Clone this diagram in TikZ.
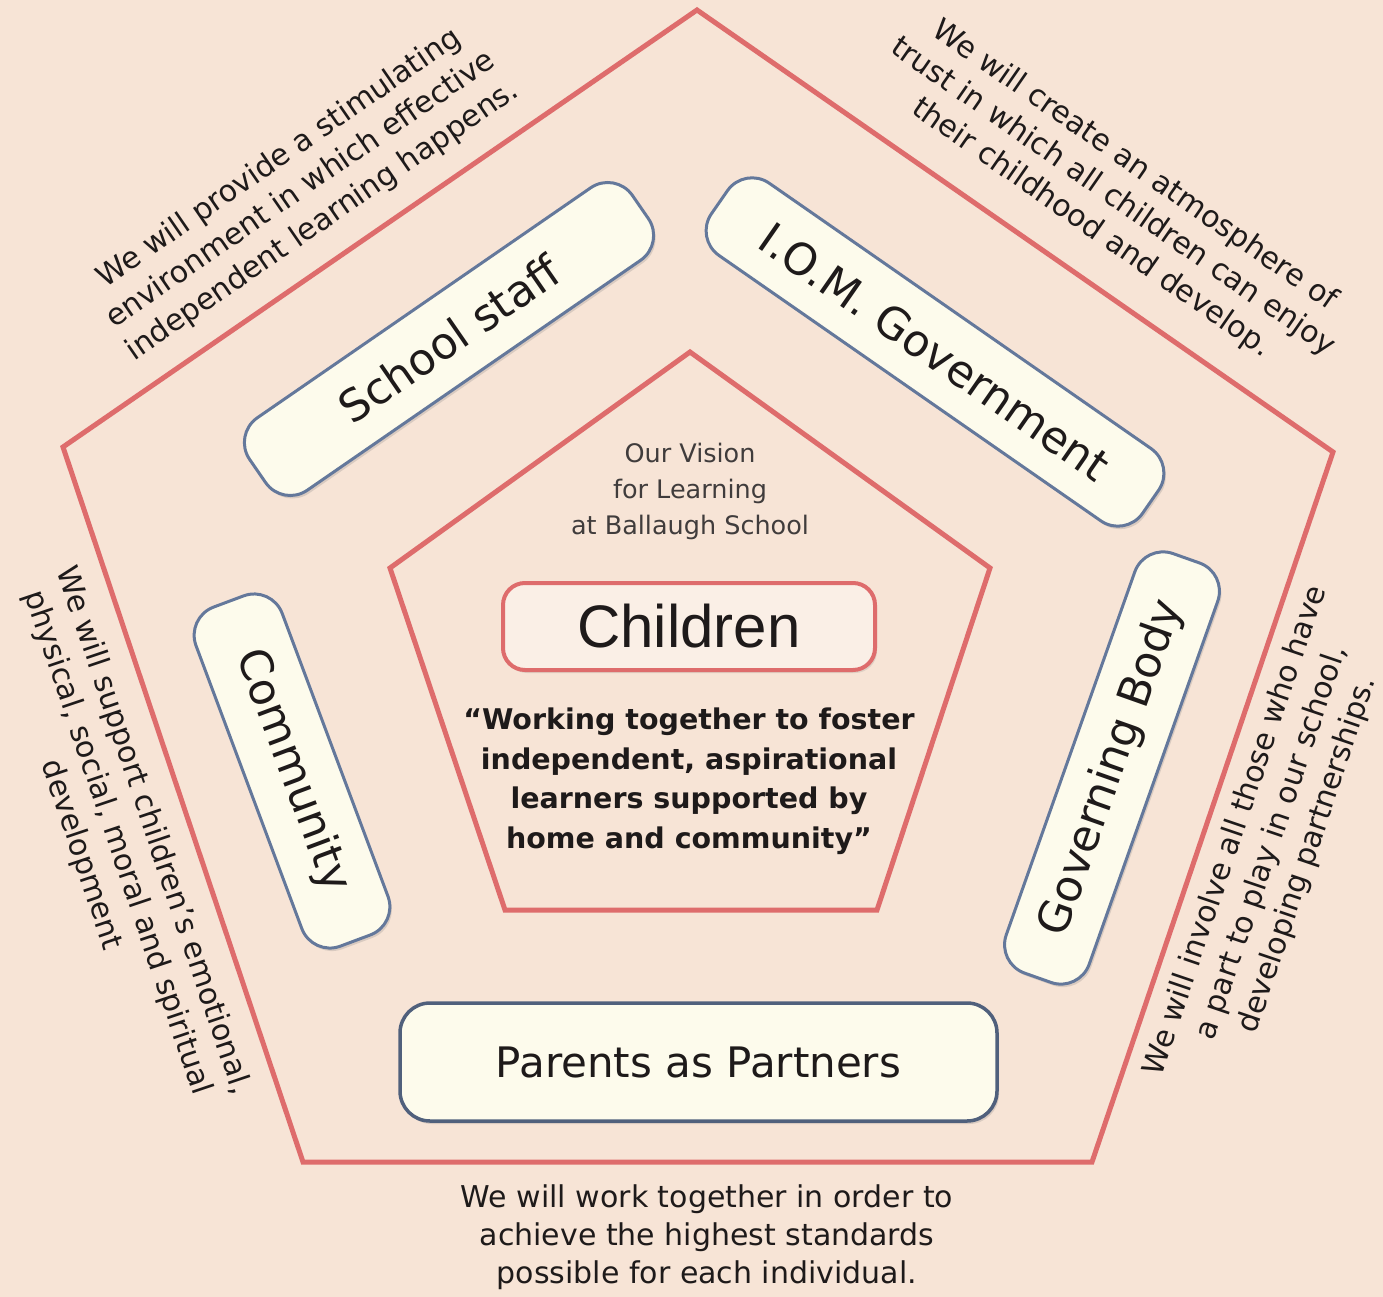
\documentclass[tikz,border=0pt]{standalone}
\usepackage{fontspec}
\setmainfont{DejaVu Sans}
\newfontfamily\helv{Liberation Sans}
\usetikzlibrary{shadows}
\definecolor{bgc}{RGB}{247,228,214}
\definecolor{pent}{RGB}{222,108,108}
\definecolor{boxfill}{RGB}{253,251,236}
\definecolor{boxline}{RGB}{100,120,155}
\definecolor{ink}{RGB}{30,26,26}
\begin{document}
\begin{tikzpicture}[x=1pt,y=-1pt,
  pentline/.style={draw=pent,line width=5pt,line join=miter},
  member/.style={draw=boxline,line width=3pt,fill=boxfill,rounded corners=30pt,inner sep=0pt,text=ink,
    font=\fontsize{44}{50}\selectfont,
    drop shadow={opacity=0.25,shadow xshift=2pt,shadow yshift=-3pt}},
  stmt/.style={align=center,text=ink,font=\fontsize{30}{38}\selectfont,inner sep=0pt},
]
\fill[bgc] (0,0) rectangle (1383,1297);
\useasboundingbox (0,0) rectangle (1383,1297);

% pentagons
\draw[pentline] (697,10) -- (1333,452) -- (1092,1162) -- (303,1162) -- (63,447) -- cycle;
\draw[pentline] (690,352) -- (990,568) -- (877,910) -- (505,910) -- (390,568) -- cycle;

% member boxes
\node[member,minimum width=465pt,minimum height=88pt,rotate=34.6] (staff) at (449,339) {School staff};
\node[member,minimum width=525pt,minimum height=88pt,rotate=-34.8] (gov) at (935,352) {I.O.M. Government};
\node[member,minimum width=445pt,minimum height=88pt,rotate=70.5] (body) at (1112,768) {Governing Body};
\node[member,minimum width=362pt,minimum height=92pt,rotate=-69.5] (comm) at (292,771) {Community};
\node[member,minimum width=597pt,minimum height=118pt,draw=boxline!80!black,line width=3.5pt,
  font=\fontsize{42}{48}\selectfont] (parents) at (698.5,1062) {Parents as Partners};

% centre
\node[align=center,text=ink!85,font=\fontsize{25.5}{36}\selectfont,inner sep=0pt] (vision) at (690,491)
  {Our Vision\\for Learning\\at Ballaugh School};
\node[draw=pent,line width=4pt,fill=bgc!60!white,rounded corners=22pt,minimum width=372pt,minimum height=87pt,
  text=ink,font=\helv\fontsize{60}{66}\selectfont,
  drop shadow={opacity=0.2,shadow xshift=2pt,shadow yshift=-3pt}] (children) at (689,626.5) {Children};
\node[align=center,text=ink,font=\bfseries\fontsize{28.5}{39.5}\selectfont,inner sep=0pt] (quote) at (689,781)
  {“Working together to foster\\independent, aspirational\\learners supported by\\home and community”};

% statements
\node[stmt,rotate=34.6] (s1) at (301,190)
  {We will provide a stimulating\\environment in which effective\\independent learning happens.};
\node[stmt,rotate=-34.8] (s2) at (1113,197)
  {We will create an atmosphere of\\trust in which all children can enjoy\\their childhood and develop.};
\node[stmt,rotate=71.3] (s3) at (1272,843)
  {We will involve all those who have\\a part to play in our school,\\developing partnerships.};
\node[stmt,rotate=-71.4] (s4) at (117,843)
  {We will support children’s emotional,\\physical, social, moral and spiritual\\development};
\node[stmt] (s5) at (707,1237)
  {We will work together in order to\\achieve the highest standards\\possible for each individual.};
\end{tikzpicture}
\end{document}
